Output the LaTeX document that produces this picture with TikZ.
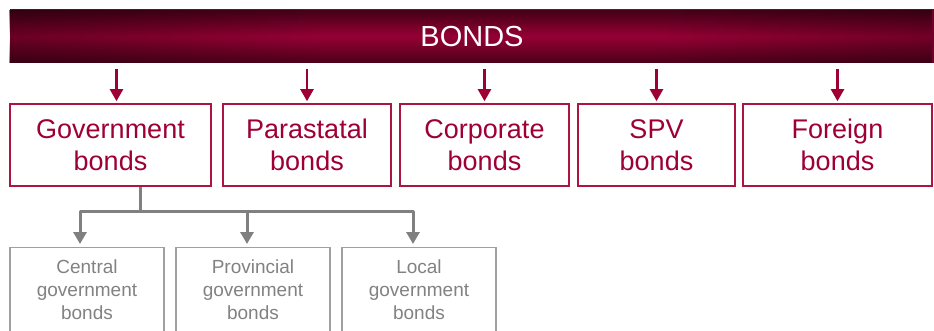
\documentclass[tikz,border=0pt]{standalone}
\usepackage{fontspec}
\setmainfont{Liberation Sans}
\usetikzlibrary{arrows.meta,fadings}
\definecolor{crim}{RGB}{158,0,52}
\definecolor{crimline}{RGB}{172,20,66}
\definecolor{barDark}{RGB}{68,0,21}
\definecolor{barMid}{RGB}{108,0,37}
\definecolor{barBright}{RGB}{150,0,52}
\definecolor{gline}{RGB}{128,128,128}
\definecolor{gbox}{RGB}{160,160,160}
\definecolor{gtext}{RGB}{130,130,130}
\pgfdeclarehorizontalshading{barshade}{100bp}{%
  color(0bp)=(barDark); color(25bp)=(barMid); color(42bp)=(barBright);
  color(60bp)=(barBright); color(78bp)=(barMid); color(100bp)=(barDark)}
\tikzfading[name=edgefade, top color=transparent!45, bottom color=transparent!50, middle color=transparent!100]
\tikzset{
  barbox/.style={shading=barshade, minimum width=924, minimum height=53, inner sep=0, draw=none},
  bartext/.style={text=white, font=\fontsize{29pt}{34pt}\selectfont},
  topbox/.style={draw=crimline, line width=1.6pt, fill=white, text=crim, align=center,
    minimum height=82, inner sep=0, font=\fontsize{27pt}{32pt}\selectfont},
  rarrow/.style={draw=crim, line width=2.4pt, -{Triangle[width=13pt,length=12pt]},
    shorten <=6pt, shorten >=2pt},
  graybox/.style={draw=gbox, line width=1.4pt, minimum width=154, minimum height=110,
    inner sep=0, anchor=north},
  graytext/.style={text=gtext, align=center, font=\fontsize{19pt}{23pt}\selectfont},
  gconn/.style={draw=gline, line width=3pt, line join=round},
  garrow/.style={gconn, -{Triangle[width=13pt,length=12pt]}, shorten >=3pt},
}
\begin{document}
\begin{tikzpicture}[x=1pt,y=-1pt]
\clip (0,0) rectangle (934,331);
\fill[white] (0,0) rectangle (934,331);
% top bar
\node[barbox] (bar) at (472,36.5) {};
\fill[black, path fading=edgefade] (bar.north west) rectangle (bar.south east);
\node[bartext] (bonds) at (bar.center) {BONDS};
% category boxes
\node[topbox, minimum width=201] (gov) at (110.5,145) {Government\\bonds};
\node[topbox, minimum width=168] (para) at (307,145) {Parastatal\\bonds};
\node[topbox, minimum width=169] (corp) at (484.5,145) {Corporate\\bonds};
\node[topbox, minimum width=157] (spv) at (656.5,145) {SPV\\bonds};
\node[topbox, minimum width=189] (fore) at (837.5,145) {Foreign\\bonds};
% arrows from bar
\coordinate (ga) at ([xshift=6pt]gov.north);
\draw[rarrow] (bar.south -| ga) -- (ga);
\draw[rarrow] (bar.south -| para.north) -- (para.north);
\draw[rarrow] (bar.south -| corp.north) -- (corp.north);
\draw[rarrow] (bar.south -| spv.north) -- (spv.north);
\draw[rarrow] (bar.south -| fore.north) -- (fore.north);
% sub boxes
\node[graybox] (c1) at (87,247) {};
\node[graybox] (c2) at (253,247) {};
\node[graybox] (c3) at (419,247) {};
\node[graytext] (t1) at (87,290) {Central\\government\\bonds};
\node[graytext] (t2) at (253,290) {Provincial\\government\\bonds};
\node[graytext] (t3) at (419,290) {Local\\government\\bonds};
% gray connectors
\draw[gconn] ([xshift=29.5pt]gov.south) -- ++(0,25) coordinate (hub);
\draw[garrow] (hub) -| ([xshift=-7pt]c1.north);
\draw[garrow] (hub) -| ([xshift=-6pt]c2.north);
\draw[garrow] (hub) -| ([xshift=-6pt]c3.north);
\end{tikzpicture}
\end{document}
